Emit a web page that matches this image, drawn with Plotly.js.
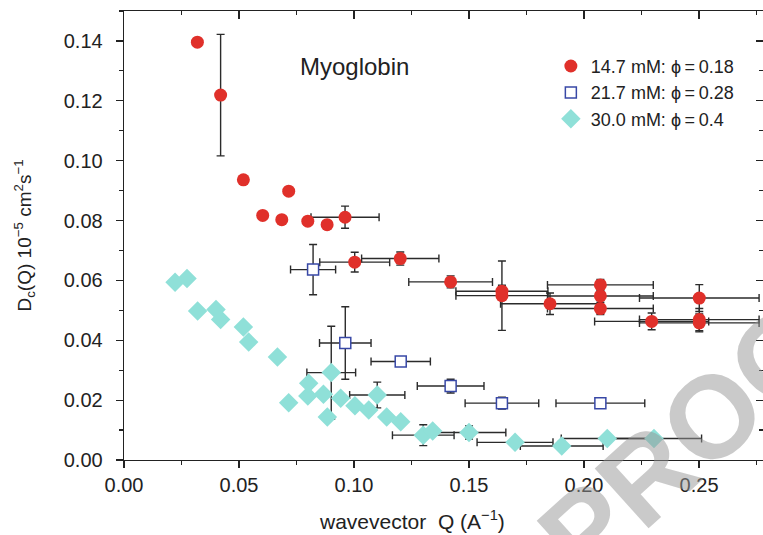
<!DOCTYPE html>
<html>
<head>
<meta charset="utf-8">
<script src="https://cdn.plot.ly/plotly-3.0.1.min.js"></script>
<style>html,body{margin:0;padding:0;background:#fff;}#chart{width:763px;height:535px;}</style>
</head>
<body>
<div id="chart"></div>
<script>
// ---- data ----
var seriesNames = ['14.7 mM: \u03d5\u2009=\u20090.18', '21.7 mM: \u03d5\u2009=\u20090.28', '30.0 mM: \u03d5\u2009=\u20090.4'];

var redQ  = [0.0319,0.0420,0.0519,0.0603,0.0686,0.0716,0.0799,0.0883,0.0961,0.1003,0.1201,0.1420,0.1643,0.1643,0.1852,0.2071,0.2071,0.2071,0.2294,0.2501,0.2501,0.2501];
var redD  = [0.1396,0.1219,0.0936,0.0817,0.0803,0.0898,0.0798,0.0786,0.0811,0.0661,0.0673,0.0595,0.0564,0.0549,0.0522,0.0585,0.0548,0.0506,0.0463,0.0541,0.0469,0.0458];
var redEy = [null,0.0203,null,null,null,null,null,null,0.0037,0.0033,0.0022,0.0020,0.0020,0.0116,0.0036,0.0018,0.0015,0.0020,0.0028,0.0045,0.0037,0.0030];
var redEx = [null,null,null,null,null,null,null,null,0.0148,0.0152,0.0168,0.0182,0.0200,0.0200,0.0215,0.0230,0.0230,0.0230,0.0248,0.0260,0.0260,0.0260];

var blueQ  = [0.0822,0.0962,0.1203,0.1420,0.1643,0.2071];
var blueD  = [0.0636,0.0391,0.0329,0.0247,0.0190,0.0190];
var blueEy = [0.0084,0.0121,0.0013,0.0023,0.0020,0.0010];
var blueEx = [0.0098,0.0112,0.0129,0.0145,0.0160,0.0193];

var cyanQ  = [0.0222,0.0274,0.0320,0.0400,0.0420,0.0519,0.0542,0.0667,0.0716,0.0799,0.0803,0.0867,0.0884,0.0901,0.0942,0.1004,0.1064,0.1101,0.1142,0.1203,0.1301,0.1342,0.1500,0.1700,0.1903,0.2101,0.2304];
var cyanD  = [0.0594,0.0606,0.0498,0.0503,0.0469,0.0444,0.0394,0.0344,0.0191,0.0214,0.0256,0.0220,0.0144,0.0292,0.0206,0.0181,0.0167,0.0217,0.0144,0.0128,0.0083,0.0097,0.0092,0.0059,0.0047,0.0072,0.0072];
var cyanEy = [null,null,null,null,null,null,null,null,null,null,null,null,null,0.0155,null,null,null,0.0043,null,null,0.0035,null,0.0022,0.0015,0.0015,0.0010,0.0012];
var cyanEx = [null,null,null,null,null,null,null,null,null,null,null,null,null,0.0106,null,null,null,0.0120,null,null,0.0134,null,0.0160,0.0165,0.0180,0.0200,0.0207];

var xTitle = 'wavevector  Q (A<sup>\u22121</sup>)';
var yTitle = 'D<sub>c</sub>(Q) 10<sup>\u22125</sup> cm<sup>2</sup>s<sup>\u22121</sup>';
var labelText = 'Myoglobin';
var watermark = 'PROOF';

// ---- styling ----
var FONT = 'Liberation Sans, Arial, sans-serif';
var INK = '#222222';
var ERR = '#2b2b2b';
function errY(a){return {type:'data',array:a,visible:true,color:ERR,thickness:1.4,width:4};}
function errX(a){return {type:'data',array:a,visible:true,color:ERR,thickness:1.4,width:4};}

var traces = [
  {x:redQ,y:redD,name:seriesNames[0],type:'scatter',mode:'markers',
   error_y:errY(redEy),error_x:errX(redEx),
   marker:{symbol:'circle',size:13,color:'#e0302a',line:{width:0}}},
  {x:blueQ,y:blueD,name:seriesNames[1],type:'scatter',mode:'markers',
   error_y:errY(blueEy),error_x:errX(blueEx),
   marker:{symbol:'square',size:11,color:'#ffffff',line:{width:1.5,color:'#3848a6'}}},
  {x:cyanQ,y:cyanD,name:seriesNames[2],type:'scatter',mode:'markers',
   error_y:errY(cyanEy),error_x:errX(cyanEx),
   marker:{symbol:'diamond',size:15,color:'#8fe0d8',line:{width:0}}},
  {x:[],y:[],xaxis:'x2',yaxis:'y2',type:'scatter',mode:'markers',showlegend:false,hoverinfo:'skip'}
];

var layout = {
  width:763,height:535,
  margin:{l:124,r:0,t:11,b:75},
  paper_bgcolor:'#ffffff',plot_bgcolor:'#ffffff',
  font:{family:FONT,color:INK,size:18},
  showlegend:true,
  legend:{x:0.668,y:0.918,xanchor:'left',yanchor:'top',bgcolor:'rgba(0,0,0,0)',
          font:{family:FONT,size:18,color:INK},tracegroupgap:0,itemsizing:'trace'},
  xaxis:{range:[0,0.2778],dtick:0.05,tick0:0,tickformat:'.2f',showgrid:false,zeroline:false,
         showline:true,linecolor:INK,linewidth:1.3,ticks:'outside',ticklen:7,tickcolor:INK,tickwidth:1.2,
         minor:{dtick:0.025,ticks:'outside',ticklen:4,tickcolor:INK,tickwidth:1.2},
         tickfont:{family:FONT,size:20,color:INK}},
  yaxis:{range:[0,0.15],dtick:0.02,tick0:0,tickformat:'.2f',showgrid:false,zeroline:false,
         showline:true,linecolor:INK,linewidth:1.3,ticks:'outside',ticklen:7,tickcolor:INK,tickwidth:1.2,
         minor:{dtick:0.01,ticks:'outside',ticklen:4,tickcolor:INK,tickwidth:1.2},
         ticklabelstandoff:9,
         tickfont:{family:FONT,size:20,color:INK},
         title:{text:yTitle,font:{family:FONT,size:19,color:INK},standoff:27}},
  xaxis2:{overlaying:'x',side:'top',matches:'x',range:[0,0.2778],dtick:0.05,tick0:0,showticklabels:false,
          showgrid:false,zeroline:false,showline:true,linecolor:INK,linewidth:1.3,
          ticks:'inside',ticklen:8,tickcolor:INK,tickwidth:1.2,
          minor:{dtick:0.025,ticks:'inside',ticklen:4,tickcolor:INK,tickwidth:1.2}},
  yaxis2:{overlaying:'y',side:'right',matches:'y',range:[0,0.15],dtick:0.02,tick0:0,showticklabels:false,
          showgrid:false,zeroline:false,showline:false,
          ticks:'inside',ticklen:7,tickcolor:INK,tickwidth:1.2,
          minor:{dtick:0.01,ticks:'inside',ticklen:4,tickcolor:INK,tickwidth:1.2}},
  annotations:[
    {text:xTitle,xref:'paper',yref:'paper',x:(412-124)/639,y:-(520-460)/450,xanchor:'center',yanchor:'middle',
     showarrow:false,font:{family:FONT,size:21,color:INK}},
    {text:labelText,xref:'paper',yref:'paper',x:0.361,y:0.876,xanchor:'center',yanchor:'middle',
     showarrow:false,font:{family:FONT,size:24,color:INK}},
    {text:watermark,xref:'paper',yref:'paper',x:(712-124)/639,y:(460-416)/450,xanchor:'center',yanchor:'middle',
     showarrow:false,textangle:-42,
     font:{family:'Liberation Sans, Arial, sans-serif',size:117,weight:'bold',color:'rgba(150,150,150,0.5)'}}
  ]
};

Plotly.newPlot('chart',traces,layout,{displayModeBar:false,staticPlot:true});
</script>
</body>
</html>
